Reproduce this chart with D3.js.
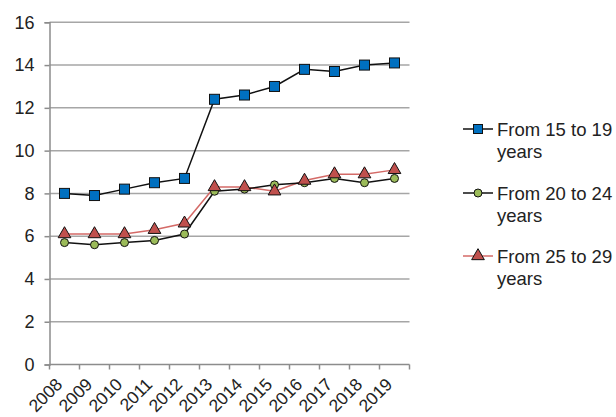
<!DOCTYPE html>
<html>
<head>
<meta charset="utf-8">
<script src="https://cdn.jsdelivr.net/npm/d3@7"></script>
<style>
  body { margin: 0; background: #fff; }
  text { font-family: "Liberation Sans", Arial, sans-serif; fill: #222; }
</style>
</head>
<body>
<script>
// Data
const years = ["2008", "2009", "2010", "2011", "2012", "2013", "2014", "2015", "2016", "2017", "2018", "2019"];
const from15to19 = [8.0, 7.9, 8.2, 8.5, 8.7, 12.4, 12.6, 13.0, 13.8, 13.7, 14.0, 14.1];
const from20to24 = [5.7, 5.6, 5.7, 5.8, 6.1, 8.1, 8.2, 8.4, 8.5, 8.7, 8.5, 8.7];
const from25to29 = [6.1, 6.1, 6.1, 6.3, 6.6, 8.3, 8.3, 8.1, 8.6, 8.9, 8.9, 9.1];
const yTicks = [0, 2, 4, 6, 8, 10, 12, 14, 16];
const seriesNames = ["From 15 to 19 years", "From 20 to 24 years", "From 25 to 29 years"];

const width = 616, height = 417;
const plot = { left: 49.5, right: 409.5, top: 22.3, bottom: 364.5 };

const svg = d3.select("body").append("svg")
    .attr("width", width)
    .attr("height", height);

const x = d3.scaleBand().domain(years).range([plot.left, plot.right]);
const y = d3.scaleLinear().domain([0, 16]).range([plot.bottom, plot.top]);

// Gridlines
svg.append("g")
  .selectAll("line")
  .data(yTicks.filter(d => d > 0))
  .enter().append("line")
    .attr("x1", plot.left).attr("x2", plot.right)
    .attr("y1", d => y(d)).attr("y2", d => y(d))
    .attr("stroke", "#a6a6a6")
    .attr("stroke-width", 1.5);

// Y axis
const yAxis = svg.append("g")
    .attr("transform", `translate(${plot.left},0)`)
    .call(d3.axisLeft(y).tickValues(yTicks).tickSize(5).tickPadding(10));
yAxis.select(".domain").attr("stroke", "#8c8c8c").attr("stroke-width", 1.5);
yAxis.selectAll(".tick line").attr("stroke", "#8c8c8c").attr("stroke-width", 1.5);
yAxis.selectAll("text")
    .style("font-family", "Liberation Sans, Arial, sans-serif")
    .style("font-size", "18px")
    .attr("fill", "#222");

// X axis (ticks on category boundaries)
const xg = svg.append("g").attr("transform", `translate(0,${plot.bottom})`);
xg.append("line")
    .attr("x1", plot.left).attr("x2", plot.right)
    .attr("stroke", "#8c8c8c").attr("stroke-width", 1.5);
xg.selectAll("line.tick")
    .data(years.concat(["end"]))
    .enter().append("line")
    .attr("class", "tick")
    .attr("x1", (d, i) => plot.left + i * x.step())
    .attr("x2", (d, i) => plot.left + i * x.step())
    .attr("y1", 0).attr("y2", 5)
    .attr("stroke", "#8c8c8c").attr("stroke-width", 1.5);
xg.selectAll("text")
    .data(years)
    .enter().append("text")
    .attr("transform", d => `translate(${x(d) + x.bandwidth() / 2 - 1},${21}) rotate(-45)`)
    .attr("text-anchor", "end")
    .style("font-size", "17.5px")
    .text(d => d);

const cx = d => x(d) + x.bandwidth() / 2;
const line = d3.line().x(d => cx(d.year)).y(d => y(d.v));
const pts = arr => years.map((yr, i) => ({ year: yr, v: arr[i] }));

const tri = d3.symbol().type(d3.symbolTriangle).size(70);

// Series 3 (red triangles)
svg.append("path")
    .datum(pts(from25to29))
    .attr("d", line)
    .attr("fill", "none")
    .attr("stroke", "#d46a67")
    .attr("stroke-width", 1.5);

// Series 2 (green circles)
svg.append("path")
    .datum(pts(from20to24))
    .attr("d", line)
    .attr("fill", "none")
    .attr("stroke", "#111")
    .attr("stroke-width", 1.5);

// Series 1 (blue squares)
svg.append("path")
    .datum(pts(from15to19))
    .attr("d", line)
    .attr("fill", "none")
    .attr("stroke", "#111")
    .attr("stroke-width", 1.5);

svg.append("g").selectAll("circle")
    .data(pts(from20to24))
    .enter().append("circle")
    .attr("cx", d => cx(d.year))
    .attr("cy", d => y(d.v))
    .attr("r", 4)
    .attr("fill", "#9bbb59")
    .attr("stroke", "#111")
    .attr("stroke-width", 1);

svg.append("g").selectAll("path")
    .data(pts(from25to29))
    .enter().append("path")
    .attr("d", tri)
    .attr("transform", d => `translate(${cx(d.year)},${y(d.v)})`)
    .attr("fill", "#c0504d")
    .attr("stroke", "#111")
    .attr("stroke-width", 1);

svg.append("g").selectAll("rect")
    .data(pts(from15to19))
    .enter().append("rect")
    .attr("x", d => cx(d.year) - 5)
    .attr("y", d => y(d.v) - 5)
    .attr("width", 10)
    .attr("height", 10)
    .attr("fill", "#0070c0")
    .attr("stroke", "#111")
    .attr("stroke-width", 1);

// Legend
const legendY = [129, 193, 256];
const legendLine = ["#111", "#111", "#d46a67"];
const lg = svg.append("g");
seriesNames.forEach((name, i) => {
  const g = lg.append("g").attr("transform", `translate(0,${legendY[i]})`);
  g.append("line").attr("x1", 463).attr("x2", 493)
    .attr("stroke", legendLine[i]).attr("stroke-width", 1.5);
  if (i === 0) {
    g.append("rect").attr("x", 478 - 4.5).attr("y", -4.5).attr("width", 9).attr("height", 9)
      .attr("fill", "#0070c0").attr("stroke", "#111");
  } else if (i === 1) {
    g.append("circle").attr("cx", 478).attr("r", 4)
      .attr("fill", "#9bbb59").attr("stroke", "#111");
  } else {
    g.append("path").attr("d", tri).attr("transform", "translate(478,0)")
      .attr("fill", "#c0504d").attr("stroke", "#111");
  }
  const t = g.append("text").attr("x", 497).attr("y", 6.5).style("font-size", "18.5px");
  t.append("tspan").attr("x", 497).text(name.replace(" years", ""));
  t.append("tspan").attr("x", 497).attr("dy", 22).text("years");
});
</script>
</body>
</html>
